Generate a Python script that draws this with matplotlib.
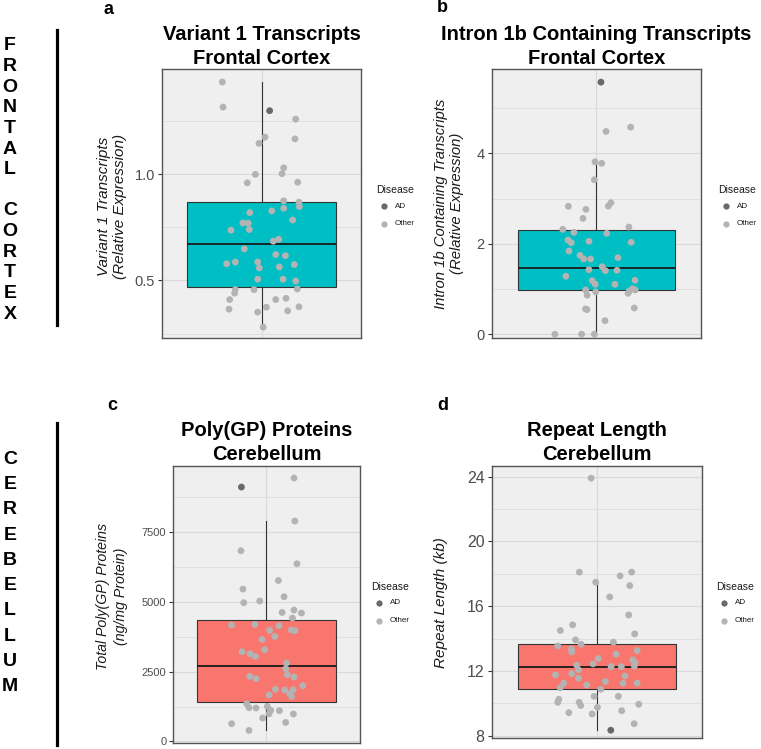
import matplotlib
matplotlib.use("Agg")
import matplotlib.pyplot as plt
from matplotlib.lines import Line2D
import numpy as np

plt.rcParams['font.family'] = ['Liberation Sans', 'DejaVu Sans']

# ---- data ----
# panel a: Variant 1 transcripts, frontal cortex
a_values = [1.435, 1.317, 1.30, 1.26, 1.175, 1.146, 1.167, 1.031, 1.003, 1.0, 0.96, 0.963,
            0.875, 0.869, 0.848, 0.84, 0.828, 0.82, 0.785, 0.771, 0.77, 0.74, 0.737, 0.694,
            0.685, 0.649, 0.622, 0.617, 0.579, 0.587, 0.587, 0.559, 0.564, 0.575, 0.506, 0.506,
            0.498, 0.46, 0.457, 0.457, 0.44, 0.41, 0.41, 0.416, 0.365, 0.374, 0.376, 0.351,
            0.357, 0.28]
a_jitter = [-0.236, -0.232, 0.049, 0.206, 0.021, -0.015, 0.202, 0.134, 0.124, -0.037, -0.086, 0.218,
            0.134, 0.226, 0.228, 0.134, 0.062, -0.071, 0.188, -0.112, -0.080, -0.074, -0.184, 0.104,
            0.071, -0.104, 0.086, 0.144, -0.210, -0.158, -0.023, -0.013, 0.107, 0.198, -0.023, 0.130,
            0.206, 0.216, -0.045, -0.158, -0.162, -0.192, 0.086, 0.148, -0.196, 0.029, 0.226, -0.023,
            0.158, 0.010]
a_ad = [2]
a_box = [0.28, 0.471, 0.671, 0.872, 1.437]  # whislo, q1, median, q3, whishi

# panel b: Intron 1b containing transcripts, frontal cortex
b_values = [5.576, 4.58, 4.486, 3.814, 3.78, 3.417, 2.829, 2.762, 2.835, 2.908, 2.563, 2.32,
            2.254, 2.232, 2.371, 2.084, 2.024, 2.055, 2.033, 1.84, 1.745, 1.664, 1.664, 1.693,
            1.428, 1.494, 1.406, 1.414, 1.282, 1.185, 1.105, 1.105, 1.193, 0.979, 0.862, 0.935,
            0.906, 0.957, 1.008, 0.979, 0.559, 0.544, 0.581, 0.30, 0.0, 0.0, 0.0]
b_jitter = [0.027, 0.197, 0.056, -0.007, 0.031, -0.011, -0.160, -0.059, 0.069, 0.084, -0.076, -0.192,
            -0.128, 0.060, 0.187, -0.162, -0.143, -0.042, 0.200, -0.156, -0.093, -0.072, -0.032, 0.124,
            -0.042, 0.034, 0.052, 0.119, -0.174, -0.023, -0.006, 0.107, 0.222, -0.061, -0.052, -0.003,
            0.182, 0.189, 0.208, 0.223, -0.061, -0.053, 0.218, 0.050, -0.237, -0.084, -0.011]
b_ad = [0]
b_box = [0.0, 0.979, 1.472, 2.298, 3.78]

# panel c: Poly(GP) proteins, cerebellum
c_values = [9434, 9112, 7894, 6830, 6365, 5766, 5458, 5183, 4968, 5029, 4620, 4706, 4599, 4420,
            4169, 4191, 4144, 3976, 3990, 3965, 3761, 3653, 3284, 3213, 3141, 3044, 2808, 2604,
            2389, 2307, 2328, 2246, 1995, 1862, 1841, 1852, 1708, 1612, 1662, 1350, 1207, 1196,
            1254, 1110, 992, 1100, 838, 981, 680, 634, 394]
c_jitter = [0.178, -0.161, 0.183, -0.164, 0.197, 0.077, -0.151, 0.114, -0.146, -0.043, 0.101, 0.178,
            0.226, 0.168, -0.224, -0.074, 0.081, 0.021, 0.161, 0.184, 0.054, -0.028, -0.011, -0.157,
            -0.106, -0.071, 0.129, 0.124, 0.135, 0.178, -0.108, -0.067, 0.234, 0.058, 0.118, 0.172,
            0.150, 0.163, 0.017, -0.127, -0.112, -0.067, 0.006, 0.028, 0.017, 0.084, -0.024, 0.174,
            0.124, -0.224, -0.112]
c_ad = [1]
c_box = [394, 1411, 2686, 4359, 7905]

# panel d: repeat length, cerebellum
d_values = [23.9, 18.1, 18.1, 17.87, 17.48, 17.27, 16.57, 15.46, 14.85, 14.5, 14.29, 13.92, 13.55,
            13.65, 13.36, 13.18, 13.78, 13.26, 13.04, 12.77, 12.36, 12.44, 12.27, 12.27, 12.68, 12.52,
            12.31, 11.76, 11.84, 12.07, 11.56, 11.7, 11.25, 10.97, 11.14, 11.35, 11.25, 11.25, 10.88,
            10.44, 10.44, 10.26, 10.07, 10.07, 9.87, 9.95, 9.76, 9.55, 9.43, 9.35, 8.75, 8.35]
d_jitter = [-0.033, -0.100, 0.198, 0.132, -0.007, 0.187, 0.073, 0.181, -0.138, -0.208, 0.215, -0.122,
            -0.223, -0.090, -0.145, -0.143, 0.094, 0.229, 0.109, 0.007, -0.115, -0.022, 0.081, 0.139,
            0.204, 0.217, 0.213, -0.236, -0.143, -0.104, -0.105, 0.160, -0.189, -0.209, -0.058, 0.048,
            0.149, 0.229, 0.022, -0.016, 0.122, -0.217, -0.223, -0.101, -0.092, 0.238, 0.003, 0.141,
            -0.160, -0.027, 0.212, 0.079]
d_ad = [51]
d_box = [8.36, 10.9, 12.27, 13.65, 17.48]

W, H = 761, 749
fig = plt.figure(figsize=(W / 100, H / 100), dpi=100)


def px_axes(l, t, r, b):
    return fig.add_axes([l / W, 1 - b / H, (r - l) / W, (b - t) / H])


def ftxt(x, y, s, **kw):
    fig.text(x / W, 1 - y / H, s, **kw)


def panel(ax, values, jitter, ad, box, color, ylim, major, minor, title, ylabel,
          lab_x, lab_y, lab_size, lab_spacing, tick_size):
    ax.set_facecolor('#EFEFEF')

    st = [dict(whislo=box[0], q1=box[1], med=box[2], q3=box[3], whishi=box[4], fliers=[])]
    ax.bxp(st, positions=[0], widths=0.9, patch_artist=True, showfliers=False, manage_ticks=False,
           boxprops=dict(facecolor=color, edgecolor='#333333', linewidth=0.8),
           medianprops=dict(color='#1A1A1A', linewidth=1.3),
           whiskerprops=dict(color='#333333', linewidth=0.8),
           capprops=dict(linewidth=0), zorder=2)

    vals = np.array(values, dtype=float)
    jit = np.array(jitter, dtype=float)
    is_ad = np.zeros(len(vals), dtype=bool)
    is_ad[ad] = True
    ax.scatter(jit[~is_ad], vals[~is_ad], s=24, color='#B3B3B3', edgecolors='none', zorder=3)
    ax.scatter(jit[is_ad], vals[is_ad], s=24, color='#696969', edgecolors='none', zorder=4)

    ax.set_xlim(-0.6, 0.6)
    ax.set_ylim(*ylim)
    ax.set_yticks(major)
    ax.set_yticks(minor, minor=True)
    ax.set_xticks([0], labels=[''])
    ax.tick_params(axis='x', length=0)
    ax.tick_params(axis='y', which='major', length=3, color='#333333', labelcolor='#4D4D4D',
                   labelsize=tick_size, pad=2)
    ax.tick_params(axis='y', which='minor', length=0)
    ax.grid(True, which='major', color='#D9D9D9', lw=0.8)
    ax.grid(True, which='minor', axis='y', color='#DEDEDE', lw=0.6)
    ax.set_axisbelow(True)
    for sp in ax.spines.values():
        sp.set_color('#555555')
        sp.set_linewidth(1.0)

    ax.set_title(title, fontsize=14.5, fontweight='bold', pad=4, linespacing=1.3)
    ax.text(lab_x, lab_y, ylabel, transform=ax.transAxes, rotation=90, ha='center', va='center',
            style='italic', fontsize=lab_size, color='#1A1A1A', linespacing=lab_spacing)


def legend(x, y):
    # x, y: pixel position of the 'Disease' title (left, centre)
    ftxt(x, y, 'Disease', fontsize=7.5, color='#1A1A1A', va='center', ha='left')
    for i, (lab, col) in enumerate([('AD', '#696969'), ('Other', '#B3B3B3')]):
        yy = y + 16 + i * 17.5
        fig.add_artist(Line2D([(x + 8) / W], [1 - yy / H], marker='o', markersize=4.5,
                              color=col, markeredgecolor='none', linestyle='none'))
        ftxt(x + 19, yy, lab, fontsize=5.8, color='#1A1A1A', va='center', ha='left')


ax_a = px_axes(162, 69.3, 361, 338)
panel(ax_a, a_values, a_jitter, a_ad, a_box, '#00BFC4', (0.229, 1.495), [0.5, 1.0],
      [0.25, 0.75, 1.25], 'Variant 1 Transcripts\nFrontal Cortex',
      'Variant 1 Transcripts\n(Relative Expression)', -0.25, 0.49, 11, 1.15, 10.5)

ax_b = px_axes(491.5, 69.3, 701, 338.3)
panel(ax_b, b_values, b_jitter, b_ad, b_box, '#00BFC4', (-0.09, 5.86), [0, 2, 4], [1, 3, 5],
      'Intron 1b Containing Transcripts\nFrontal Cortex',
      'Intron 1b Containing Transcripts\n(Relative Expression)', -0.202, 0.5, 10.7, 1.15, 10.5)

ax_c = px_axes(173.3, 465.5, 359.5, 743)
panel(ax_c, c_values, c_jitter, c_ad, c_box, '#F8766D', (-57, 9885), [0, 2500, 5000, 7500],
      [1250, 3750, 6250, 8750], 'Poly(GP) Proteins\nCerebellum',
      'Total Poly(GP) Proteins\n(ng/mg Protein)', -0.328, 0.528, 10.2, 1.35, 8)

ax_d = px_axes(491.5, 465.5, 702.3, 737.5)
panel(ax_d, d_values, d_jitter, d_ad, d_box, '#F8766D', (7.9, 24.68), [8, 12, 16, 20, 24],
      [10, 14, 18, 22], 'Repeat Length\nCerebellum', 'Repeat Length (kb)', -0.241, 0.496, 11, 1.2,
      11.5)

legend(376, 190)
legend(718, 190)
legend(371, 587)
legend(716, 587)

# panel letters
for lx, ly, letter in [(108, 9, 'a'), (442, 8, 'b'), (112, 405, 'c'), (443, 405, 'd')]:
    ftxt(lx, ly, letter, fontsize=13, fontweight='bold', ha='center', va='center')

# region labels down the left side
ftxt(10, 180, '\n'.join('FRONTAL CORTEX'), fontsize=14, fontweight='bold',
     ha='center', va='center', linespacing=1.28)
ftxt(10, 573, '\n'.join('CEREBELLUM'), fontsize=14, fontweight='bold',
     ha='center', va='center', linespacing=1.64)
fig.add_artist(Line2D([57 / W, 57 / W], [1 - 30 / H, 1 - 325 / H], color='black', lw=2.3))
fig.add_artist(Line2D([57 / W, 57 / W], [1 - 423 / H, 1 - 745 / H], color='black', lw=2.3))

fig.savefig('out.png', dpi=100)
